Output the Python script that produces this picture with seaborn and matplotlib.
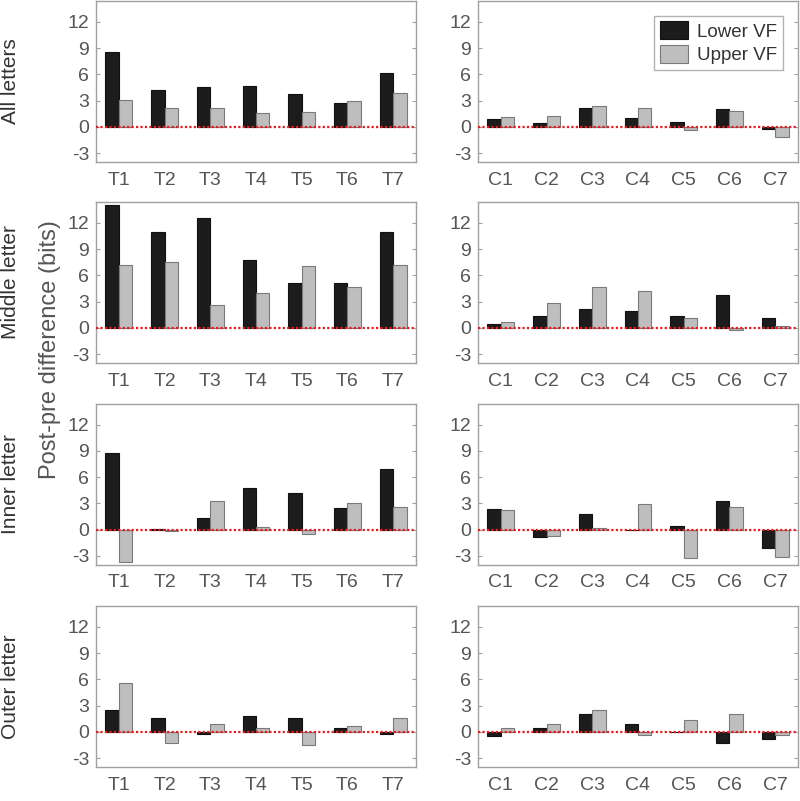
import matplotlib
matplotlib.use("Agg")
import matplotlib.pyplot as plt
import pandas as pd
import seaborn as sns

# Data (post-pre difference, bits)
t_labels = ["T1", "T2", "T3", "T4", "T5", "T6", "T7"]
c_labels = ["C1", "C2", "C3", "C4", "C5", "C6", "C7"]
row_names = ["All letters", "Middle letter", "Inner letter", "Outer letter"]
groups = ["Lower VF", "Upper VF"]

all_t_lower = [8.5, 4.2, 4.5, 4.7, 3.7, 2.75, 6.2]
all_t_upper = [3.05, 2.2, 2.2, 1.55, 1.7, 2.9, 3.9]
all_c_lower = [0.85, 0.38, 2.1, 1.0, 0.6, 2.0, -0.3]
all_c_upper = [1.07, 1.18, 2.36, 2.17, -0.38, 1.8, -1.14]

mid_t_lower = [14.0, 10.97, 12.6, 7.7, 5.15, 5.15, 10.97]
mid_t_upper = [7.24, 7.5, 2.6, 4.0, 7.05, 4.65, 7.24]
mid_c_lower = [0.46, 1.37, 2.1, 1.87, 1.37, 3.73, 1.14]
mid_c_upper = [0.72, 2.82, 4.69, 4.19, 1.18, -0.27, 0.23]

inn_t_lower = [8.76, 0.11, 1.3, 4.76, 4.19, 2.44, 6.97]
inn_t_upper = [-3.73, -0.11, 3.24, 0.34, -0.5, 3.05, 2.63]
inn_c_lower = [2.32, -0.84, 1.75, 0.0, 0.46, 3.24, -2.13]
inn_c_upper = [2.2, -0.72, 0.19, 2.93, -3.28, 2.63, -3.16]

out_t_lower = [2.55, 1.6, -0.23, 1.83, 1.6, 0.42, -0.27]
out_t_upper = [5.56, -1.22, 0.91, 0.42, -1.45, 0.72, 1.64]
out_c_lower = [-0.5, 0.42, 2.1, 0.88, 0.0, -1.22, -0.76]
out_c_upper = [0.42, 0.91, 2.55, -0.3, 1.37, 2.1, -0.3]

panels = [
    [(t_labels, all_t_lower, all_t_upper), (c_labels, all_c_lower, all_c_upper)],
    [(t_labels, mid_t_lower, mid_t_upper), (c_labels, mid_c_lower, mid_c_upper)],
    [(t_labels, inn_t_lower, inn_t_upper), (c_labels, inn_c_lower, inn_c_upper)],
    [(t_labels, out_t_lower, out_t_upper), (c_labels, out_c_lower, out_c_upper)],
]

sns.set_style("white")
plt.rcParams["font.family"] = ["Liberation Sans", "DejaVu Sans"]
plt.rcParams["axes.unicode_minus"] = False

text_col = "#555555"
spine_col = "#a0a0a0"
fill_cols = ["#1c1c1c", "#bebebe"]
edge_cols = ["#111111", "#7a7a7a"]

fig = plt.figure(figsize=(8, 8.01), dpi=100)

lefts = [0.12, 0.5975]
width = 0.40
bottoms = [0.798, 0.547, 0.295, 0.0425]
height = 0.201

for r, row in enumerate(panels):
    for c, (cats, lower, upper) in enumerate(row):
        ax = fig.add_axes([lefts[c], bottoms[r], width, height])
        df = pd.DataFrame({
            "cat": cats * 2,
            "val": lower + upper,
            "grp": [groups[0]] * len(cats) + [groups[1]] * len(cats),
        })
        sns.barplot(data=df, x="cat", y="val", hue="grp", order=cats,
                    hue_order=groups, palette=fill_cols, width=0.59,
                    errorbar=None, ax=ax, legend=(r == 0 and c == 1),
                    linewidth=0.8, saturation=1)
        for cont, ec in zip(ax.containers, edge_cols):
            for p in cont:
                p.set_edgecolor(ec)
        ax.axhline(0, color="#e8191f", linestyle=(0, (1, 1)), linewidth=1.6,
                   zorder=5)
        ax.set_xlim(-0.5, 6.5)
        ax.set_ylim(-4, 14.4)
        ax.set_yticks([-3, 0, 3, 6, 9, 12])
        ax.set_xlabel("")
        ax.set_ylabel("")
        for s in ax.spines.values():
            s.set_visible(True)
            s.set_color(spine_col)
            s.set_linewidth(1.0)
        ax.tick_params(axis="y", which="both", direction="in", length=3,
                       width=0.8, color=spine_col, left=True, right=True,
                       labelsize=14, labelcolor=text_col, pad=5)
        ax.tick_params(axis="x", length=0, labelsize=14,
                       labelcolor=text_col, pad=7)
        if r == 0 and c == 1:
            leg = ax.legend(loc="upper right", fontsize=13.5, frameon=True,
                            fancybox=False, edgecolor=spine_col,
                            handlelength=1.5, handleheight=1.1,
                            borderpad=0.3, labelspacing=0.2,
                            handletextpad=0.5, borderaxespad=0.8)
            for t in leg.get_texts():
                t.set_color("#333333")
            for h, ec in zip(leg.legend_handles, edge_cols):
                h.set_edgecolor(ec)
        if c == 0:
            fig.text(0.013, bottoms[r] + height / 2, row_names[r],
                     rotation=90, ha="center", va="center", fontsize=15,
                     color="#333333")

fig.text(0.062, 0.563, "Post-pre difference (bits)", rotation=90,
         ha="center", va="center", fontsize=17, color=text_col)

fig.savefig("out.png", dpi=100)
